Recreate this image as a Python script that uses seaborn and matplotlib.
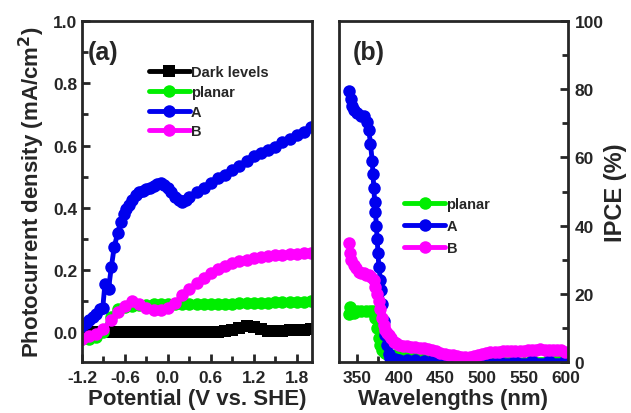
import numpy as np
import matplotlib
matplotlib.use("Agg")
import matplotlib.pyplot as plt
from matplotlib.ticker import MultipleLocator
import seaborn as sns

# ---------------------------------------------------------------
# Datos (a): densidad de fotocorriente vs potencial
pot = [-1.2, -1.1, -1.0, -0.9, -0.8, -0.7, -0.6, -0.5, -0.4, -0.3, -0.2, -0.1,
       0.0, 0.1, 0.2, 0.3, 0.4, 0.5, 0.6, 0.7, 0.8, 0.9, 1.0, 1.1, 1.2, 1.3,
       1.4, 1.5, 1.6, 1.7, 1.8, 1.9, 2.0]

dark = [0.0, 0.0, 0.0, 0.0, 0.0, 0.0, 0.0, 0.0, 0.0, 0.0, 0.0, 0.0,
        0.0, 0.0, 0.0, 0.0, 0.0, 0.0, 0.0, 0.002, 0.004, 0.008, 0.015, 0.02, 0.016, 0.01,
        0.006, 0.005, 0.006, 0.007, 0.008, 0.009, 0.01]

planar = [-0.02, -0.02, -0.015, 0.0, 0.05, 0.075, 0.082, 0.086, 0.088, 0.089, 0.09, 0.09,
          0.09, 0.09, 0.09, 0.09, 0.091, 0.091, 0.092, 0.092, 0.093, 0.093, 0.094, 0.094, 0.095, 0.095,
          0.096, 0.097, 0.097, 0.098, 0.099, 0.099, 0.1]

muestra_b = [-0.02, -0.012, -0.006, 0.01, 0.04, 0.065, 0.085, 0.1, 0.09, 0.078, 0.072, 0.073,
             0.08, 0.095, 0.12, 0.14, 0.158, 0.175, 0.19, 0.205, 0.215, 0.222, 0.228, 0.233, 0.238, 0.242,
             0.245, 0.248, 0.25, 0.252, 0.253, 0.255, 0.256]

pot_a = [-1.2, -1.15, -1.1, -1.05, -1.0, -0.95, -0.91, -0.88, -0.83, -0.79, -0.75, -0.7,
         -0.66, -0.62, -0.58, -0.54, -0.5, -0.45, -0.4, -0.35, -0.3, -0.25, -0.2, -0.15,
         -0.1, -0.05, 0.0, 0.05, 0.1, 0.15, 0.2, 0.25, 0.3, 0.4, 0.5, 0.6, 0.7, 0.8, 0.9,
         1.0, 1.1, 1.2, 1.3, 1.4, 1.5, 1.6, 1.7, 1.8, 1.9, 2.0]
muestra_a = [0.02, 0.03, 0.04, 0.05, 0.06, 0.075, 0.08, 0.155, 0.14, 0.21, 0.275, 0.32,
             0.355, 0.38, 0.395, 0.41, 0.425, 0.44, 0.45, 0.455, 0.46, 0.465, 0.47, 0.478,
             0.48, 0.475, 0.465, 0.45, 0.435, 0.425, 0.42, 0.425, 0.435, 0.45, 0.465, 0.48, 0.495, 0.505, 0.52,
             0.535, 0.55, 0.565, 0.575, 0.585, 0.595, 0.61, 0.62, 0.635, 0.645, 0.66]

# ---------------------------------------------------------------
# Datos (b): IPCE vs longitud de onda
wl_planar = [340, 341, 343, 346, 350, 355, 360, 365, 369, 372, 374, 376, 378, 380, 383, 386,
             390, 395, 400, 410, 420, 430, 440, 450, 470, 500, 530, 560, 590, 600]
ipce_planar = [14, 16, 15, 14.5, 15, 15, 15, 15, 15, 13, 10, 7, 5, 3.5, 2.8, 2.4,
               2.2, 2.0, 1.8, 1.6, 1.4, 1.2, 1.0, 0.8, 0.7, 0.6, 0.6, 0.7, 0.8, 1.0]

wl_a = [340, 342, 344, 346, 350, 354, 358, 362, 364, 366, 368, 369, 370, 371, 372, 373,
        374, 375, 376, 378, 379, 380, 382, 384, 386, 388, 390, 395, 400, 410, 420, 430,
        440, 450, 460, 470, 480, 490, 500, 520, 540, 560, 580, 600]
ipce_a = [79.5, 77, 75, 74, 73, 72, 72, 70.5, 68, 64, 59, 55, 51, 47, 44, 40,
          36, 32, 28, 24, 21, 17, 12, 8, 5, 2.5, 1.2, 0.8, 0.6, 0.5, 0.5, 0.4,
          0.4, 0.4, 0.4, 0.4, 0.4, 0.4, 0.4, 0.4, 0.4, 0.4, 0.4, 0.4]

wl_b = [340, 341, 343, 346, 349, 352, 355, 358, 361, 364, 367, 370, 372, 374, 376, 378,
        380, 382, 384, 386, 388, 391, 394, 397, 400, 405, 410, 415, 420, 425, 430, 435,
        440, 445, 450, 455, 460, 465, 470, 475, 480, 485, 490, 495, 500, 505, 510, 515,
        520, 525, 530, 535, 540, 545, 550, 555, 560, 565, 570, 575, 580, 585, 590, 595, 600]
ipce_b = [35, 32, 30, 28.5, 27.5, 26.5, 26, 26, 25.5, 25.5, 25, 24, 22, 20, 18, 15.5,
          13, 11, 9.5, 8.5, 8, 7, 6, 5.5, 5, 4.8, 4.6, 4.5, 4.4, 4.2, 4, 3.8,
          3.5, 3.2, 2.8, 2.5, 2.2, 2.0, 1.7, 1.5, 1.4, 1.5, 1.8, 2.1, 2.4, 2.7, 2.9, 3.0,
          3.1, 3.2, 3.2, 3.3, 3.3, 3.2, 3.3, 3.4, 3.5, 3.6, 3.7, 3.6, 3.5, 3.6, 3.6, 3.4, 3.0]

negro = "#000000"
verde = "#00ee00"
azul = "#0000ee"
magenta = "#ff00ff"

# ---------------------------------------------------------------
sns.set_style("ticks")
plt.rcParams["font.family"] = ["Liberation Sans", "DejaVu Sans"]
plt.rcParams["font.weight"] = "bold"

fig = plt.figure(figsize=(6.31, 4.14), dpi=100)
ax1 = fig.add_axes([0.130, 0.123, 0.364, 0.824])
ax2 = fig.add_axes([0.537, 0.123, 0.363, 0.824])

estilo = dict(linewidth=3.5, markersize=9, markeredgewidth=0, sort=False)

# Panel (a)
sns.lineplot(x=pot, y=dark, ax=ax1, color=negro, marker="s", label="Dark levels", **estilo)
sns.lineplot(x=pot, y=planar, ax=ax1, color=verde, marker="o", label="planar", **estilo)
sns.lineplot(x=pot_a, y=muestra_a, ax=ax1, color=azul, marker="o", label="A", **estilo)
sns.lineplot(x=pot, y=muestra_b, ax=ax1, color=magenta, marker="o", label="B", **estilo)

ax1.set_xlim(-1.2, 2.01)
ax1.set_ylim(-0.095, 1.0)
ax1.xaxis.set_minor_locator(MultipleLocator(0.3))
ax1.yaxis.set_minor_locator(MultipleLocator(0.1))
ax1.set_xticks([-1.2, -0.6, 0.0, 0.6, 1.2, 1.8])
ax1.set_xticklabels(["-1.2", "-0.6", "0.0", "0.6", "1.2", "1.8"])
ax1.set_yticks([0.0, 0.2, 0.4, 0.6, 0.8, 1.0])
ax1.set_yticklabels(["0.0", "0.2", "0.4", "0.6", "0.8", "1.0"])
ax1.tick_params(axis="both", which="both", direction="in", width=2, labelsize=12.5)
ax1.tick_params(axis="x", which="both", pad=6)
ax1.tick_params(which="major", length=6)
ax1.tick_params(which="minor", length=4)
ax1.set_xlabel("Potential (V vs. SHE)", fontsize=16, fontweight="bold", labelpad=2)
ax1.set_ylabel("Photocurrent density (mA/cm$^\\mathbf{2}$)", fontsize=16, fontweight="bold", labelpad=4)
ax1.text(0.025, 0.91, "(a)", transform=ax1.transAxes, fontsize=18, fontweight="bold", va="center")
leg1 = ax1.legend(loc="upper left", bbox_to_anchor=(0.265, 0.888), frameon=False,
                  fontsize=10.5, handlelength=2.8, handletextpad=0.1, labelspacing=0.4,
                  borderaxespad=0)
for t in leg1.get_texts():
    t.set_fontweight("bold")

# Panel (b)
sns.lineplot(x=wl_planar, y=ipce_planar, ax=ax2, color=verde, marker="o", label="planar", **estilo)
sns.lineplot(x=wl_a, y=ipce_a, ax=ax2, color=azul, marker="o", label="A", **estilo)
sns.lineplot(x=wl_b, y=ipce_b, ax=ax2, color=magenta, marker="o", label="B", **estilo)

ax2.set_xlim(328, 603)
ax2.set_ylim(0, 100)
ax2.xaxis.set_major_locator(MultipleLocator(50))
ax2.xaxis.set_minor_locator(MultipleLocator(25))
ax2.yaxis.set_major_locator(MultipleLocator(20))
ax2.yaxis.set_minor_locator(MultipleLocator(10))
ax2.yaxis.tick_right()
ax2.yaxis.set_label_position("right")
ax2.tick_params(axis="both", which="both", direction="in", width=2, labelsize=12.5)
ax2.tick_params(axis="x", which="both", pad=6)
ax2.tick_params(axis="y", which="both", pad=5)
ax2.tick_params(which="major", length=6)
ax2.tick_params(which="minor", length=4)
ax2.set_xlabel("Wavelengths (nm)", fontsize=16, fontweight="bold", labelpad=2)
ax2.set_ylabel("IPCE (%)", fontsize=17, fontweight="bold", labelpad=0)
ax2.text(0.06, 0.91, "(b)", transform=ax2.transAxes, fontsize=18, fontweight="bold", va="center")
leg2 = ax2.legend(loc="upper left", bbox_to_anchor=(0.26, 0.50), frameon=False,
                  fontsize=10.5, handlelength=2.8, handletextpad=0.1, labelspacing=0.55,
                  borderaxespad=0)
for t in leg2.get_texts():
    t.set_fontweight("bold")

for ax in (ax1, ax2):
    for s in ax.spines.values():
        s.set_linewidth(2)
        s.set_visible(True)
    for lab in ax.get_xticklabels() + ax.get_yticklabels():
        lab.set_fontweight("bold")

fig.savefig("out.png", dpi=100)
